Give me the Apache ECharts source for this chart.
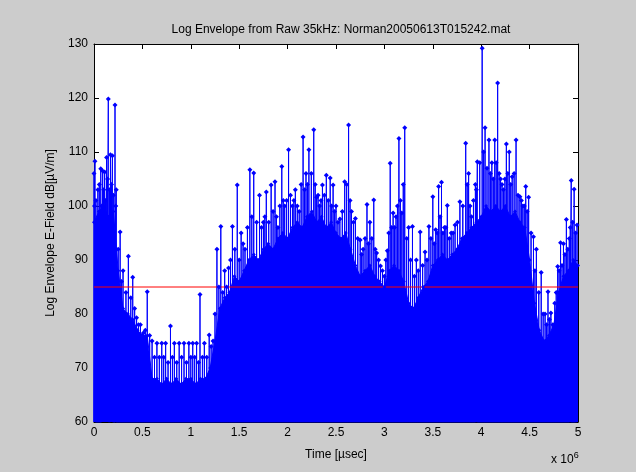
<!DOCTYPE html>
<html lang="en">

<head>
    <meta charset="UTF-8">
    <title>Log Envelope</title>
    <script src="https://cdn.jsdelivr.net/npm/echarts@6.0.0/dist/echarts.min.js"></script>
    <style>
        body { margin: 0; background: #cccccc; }
    </style>
</head>

<body>
    <div id="main" style="width: 636px;height:472px;"></div>

    <script type="text/javascript">
        // time in units of 10^6 usec, values in dB[uV/m]
        // tall spikes
        const spikeTimes = [0.00, 0.005, 0.01, 0.04, 0.07, 0.09, 0.11, 0.13, 0.148, 0.17, 0.19, 0.217, 0.23, 0.27, 0.30,
            0.355, 0.40, 0.44, 0.48, 0.51, 0.55, 0.60, 0.65, 0.70, 0.74, 0.79, 0.83, 0.88, 0.93, 0.98, 1.02, 1.06, 1.095,
            1.14, 1.19, 1.23, 1.27, 1.31, 1.35, 1.39, 1.43, 1.48, 1.52, 1.56, 1.61, 1.65, 1.71, 1.75, 1.78, 1.83, 1.87,
            1.90, 1.94, 1.97, 2.01, 2.05, 2.08, 2.12, 2.16, 2.19, 2.22, 2.27, 2.30, 2.33, 2.36, 2.40, 2.44, 2.47, 2.50,
            2.54, 2.59, 2.63, 2.66, 2.70, 2.75, 2.78, 2.82, 2.85, 2.89, 2.92, 2.96, 3.00, 3.03, 3.06, 3.09, 3.12, 3.15,
            3.18, 3.21, 3.25, 3.29, 3.33, 3.37, 3.42, 3.46, 3.50, 3.53, 3.56, 3.59, 3.62, 3.65, 3.69, 3.73, 3.78, 3.84,
            3.87, 3.90, 3.94, 3.96, 4.01, 4.04, 4.08, 4.11, 4.14, 4.17, 4.20, 4.23, 4.26, 4.29, 4.32, 4.36, 4.40, 4.43,
            4.46, 4.49, 4.54, 4.57, 4.62, 4.66, 4.69, 4.72, 4.76, 4.79, 4.82, 4.85, 4.88, 4.91, 4.93, 4.96, 4.99];
        const spikePeaks = [106, 100, 108.3, 103, 106.9, 106.5, 106.3, 109, 119.8, 109.5, 109.3, 118.7, 103, 95.2, 88,
            90.7, 86.8, 79.3, 78, 76.5, 84.1, 75, 74.6, 74.6, 74.6, 77.8, 74.6, 74.6, 74.6, 74.6, 74.6, 74.6, 83.6,
            74.6, 76.1, 75, 92.0, 96.2, 88, 88.5, 96.2, 103.9, 95, 92, 106.7, 106.1, 102, 97, 102.6, 103.9, 104.5,
            96, 107.3, 100, 110.4, 100, 103, 99, 112.8, 106, 110.4, 114.1, 101.6, 100, 103.9, 105.7, 105.2, 103.9, 100,
            97.6, 104.5, 115.0, 99, 97.7, 93.7, 92, 100.3, 97, 101.1, 91.3, 88.9, 87, 91.7, 107.9, 98.7, 98, 112.5,
            98.7, 114.5, 96, 96.2, 90, 95.2, 91.5, 96.2, 101.7, 95.6, 103.6, 104.4, 96, 100.1, 95, 96.5, 100.8, 111.6,
            106, 98, 104, 108.2, 129.2, 114.5, 112.2, 108, 112.2, 122.8, 105, 103, 111.5, 110, 105.4, 112.2, 101.7, 100,
            103.6, 101.6, 94.3, 92, 87.7, 80, 84.1, 80.2, 82, 88.8, 93.2, 93, 97.5, 94, 104.7, 103.1, 96.5];

        // shorter spikes in between
        const minorTimes = [0.02, 0.055, 0.08, 0.10, 0.12, 0.14, 0.16, 0.18, 0.20, 0.225, 0.25, 0.285, 0.33, 0.38, 0.42,
            0.46, 0.495, 0.53, 0.575, 0.625, 0.675, 0.72, 0.765, 0.81, 0.855, 0.905, 0.955, 1.00, 1.04, 1.08, 1.12,
            1.165, 1.21, 1.25, 1.29, 1.33, 1.37, 1.41, 1.455, 1.50, 1.54, 1.585, 1.63, 1.68, 1.73, 1.765, 1.805, 1.85,
            1.885, 1.92, 1.955, 1.99, 2.03, 2.065, 2.10, 2.14, 2.175, 2.205, 2.245, 2.285, 2.315, 2.345, 2.38, 2.42,
            2.455, 2.485, 2.52, 2.565, 2.61, 2.645, 2.68, 2.725, 2.765, 2.80, 2.835, 2.87, 2.905, 2.94, 2.98, 3.015,
            3.045, 3.075, 3.105, 3.135, 3.165, 3.195, 3.23, 3.27, 3.31, 3.35, 3.395, 3.44, 3.48, 3.515, 3.545, 3.575,
            3.605, 3.635, 3.67, 3.71, 3.755, 3.81, 3.855, 3.885, 3.92, 3.95, 3.985, 4.025, 4.06, 4.095, 4.125, 4.155,
            4.185, 4.215, 4.245, 4.275, 4.305, 4.34, 4.38, 4.415, 4.445, 4.475, 4.515, 4.555, 4.595, 4.64, 4.675,
            4.705, 4.74, 4.775, 4.805, 4.835, 4.865, 4.895, 4.92, 4.945, 4.975];
        const minorPeaks = [101, 104, 100, 103, 101, 105, 103, 104, 102, 100, 92, 86, 84, 83, 81,
            78, 76, 77, 76, 72, 72, 72, 71, 72, 71, 72, 71, 72, 72, 71, 72,
            72, 74, 80, 85, 84, 85, 90, 92, 90, 93, 96, 98, 97, 96, 98, 97, 99,
            98, 100, 101, 101, 102, 101, 100, 104, 103, 104, 106, 104, 102, 101, 102, 101,
            100, 99, 97, 99, 104, 101, 97, 94, 91, 94, 93, 94, 92, 90, 88, 90,
            95, 96, 96, 100, 101, 104, 94, 90, 87, 88, 89, 90, 94, 93, 95, 98,
            95, 96, 94, 95, 97, 100, 104, 100, 101, 103, 108, 110, 107, 106, 105, 108,
            106, 104, 105, 106, 104, 106, 102, 101, 100, 99, 95, 88, 84, 80, 78,
            79, 78, 84, 88, 89, 91, 92, 96, 97, 95];

        // solid part of the envelope, one level every 0.05
        const bodyStep = 0.05;
        const bodyLevels = [97, 99, 100, 98, 99, 88, 81, 80, 79, 77, 76, 76, 68, 68, 67, 68, 67, 68, 67, 68,
            68, 67, 68, 68, 70, 75, 81, 83, 84, 87, 86, 88, 90, 91, 90, 92, 93, 92, 94, 95,
            94, 96, 97, 96, 98, 99, 97, 98, 96, 97, 95, 94, 95, 92, 89, 87, 88, 89, 87, 86,
            85, 88, 89, 88, 86, 82, 81, 83, 85, 86, 89, 90, 91, 90, 91, 92, 94, 95, 96, 97,
            98, 100, 99, 100, 99, 100, 98, 99, 97, 96, 90, 82, 77, 75, 76, 78, 84, 87, 88, 90, 89];

        const threshold = 85;
        const yTicks = [60, 70, 80, 90, 100, 110, 120, 130];
        const xTicks = [0, 0.5, 1, 1.5, 2, 2.5, 3, 3.5, 4, 4.5, 5];

        const blue = '#0000ff';
        const floor = yTicks[0];

        function stems(times, peaks) {
            let out = [];
            times.forEach((t, i) => {
                out.push({ value: [t, floor], symbol: 'none' });
                out.push([t, peaks[i]]);
                out.push({ value: [t, floor], symbol: 'none' });
            });
            return out;
        }

        let myChart = echarts.init(document.getElementById('main'));

        const axisText = { color: '#000', fontFamily: 'Liberation Sans, Arial', fontSize: 12 };
        const boxLine = { show: true, onZero: false, lineStyle: { color: '#000', width: 1 } };
        const inTick = { show: true, inside: true, length: 5, lineStyle: { color: '#000' } };
        const stemStyle = {
            type: 'line', symbol: 'diamond', symbolSize: 5,
            itemStyle: { color: blue }, lineStyle: { color: blue, width: 1 }
        };

        let options = {
            animation: false,
            backgroundColor: '#cccccc',
            title: {
                text: 'Log Envelope from Raw 35kHz: Norman20050613T015242.mat',
                left: 336, top: 19, textAlign: 'center',
                textStyle: { color: '#000', fontWeight: 'normal', fontSize: 12, fontFamily: 'Liberation Sans, Arial' }
            },
            grid: { left: 94, right: 58, top: 44, bottom: 50, show: true, backgroundColor: '#fff', borderWidth: 0 },
            xAxis: [{
                type: 'value', min: 0, max: 5, interval: 0.5,
                axisLine: boxLine, axisTick: inTick, splitLine: { show: false },
                axisLabel: Object.assign({ margin: 5 }, axisText),
                name: 'Time [\u00b5sec]', nameLocation: 'middle', nameGap: 27,
                nameTextStyle: axisText
            }, {
                type: 'value', min: 0, max: 5, interval: 0.5, position: 'top',
                axisLine: boxLine, axisTick: inTick, splitLine: { show: false }, axisLabel: { show: false }
            }],
            yAxis: [{
                type: 'value', min: 60, max: 130, interval: 10,
                axisLine: boxLine, axisTick: inTick, splitLine: { show: false },
                axisLabel: Object.assign({ margin: 6 }, axisText),
                name: 'Log Envelope E-Field dB[\u00b5V/m]', nameLocation: 'middle', nameGap: 37,
                nameTextStyle: axisText
            }, {
                type: 'value', min: 60, max: 130, interval: 10, position: 'right',
                axisLine: boxLine, axisTick: inTick, splitLine: { show: false }, axisLabel: { show: false }
            }],
            graphic: [{
                type: 'text', left: 551, top: 451,
                style: {
                    text: 'x 10{s|6}', fill: '#000', font: '12px Liberation Sans, Arial',
                    rich: { s: { fontSize: 9, verticalAlign: 'top', padding: [0, 0, 8, 0] } }
                }
            }],
            series: [{
                name: 'body', type: 'line', symbol: 'diamond', symbolSize: 4,
                data: bodyLevels.map((v, i) => [i * bodyStep, v]),
                itemStyle: { color: blue },
                lineStyle: { color: blue, width: 1 },
                areaStyle: { color: blue, opacity: 1, origin: 'start' }
            }, Object.assign({ name: 'minor', data: stems(minorTimes, minorPeaks) }, stemStyle),
            Object.assign({ name: 'envelope', data: stems(spikeTimes, spikePeaks) }, stemStyle),
            {
                name: 'threshold', type: 'line', symbol: 'none',
                data: [[xTicks[0], threshold], [xTicks[xTicks.length - 1], threshold]],
                lineStyle: { color: '#ff0000', width: 1 }
            }]
        };

        myChart.setOption(options);
    </script>
</body>

</html>
